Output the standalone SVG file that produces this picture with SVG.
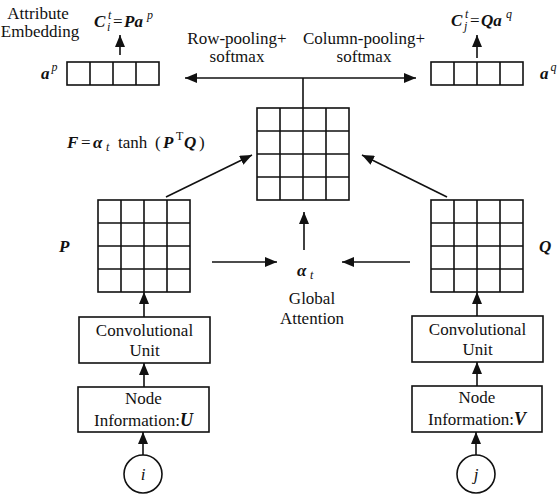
<svg xmlns="http://www.w3.org/2000/svg" width="559" height="500" viewBox="0 0 559 500">
  <defs>
    <marker id="arrow" viewBox="0 0 12 10" refX="12" refY="5" markerWidth="12" markerHeight="10" markerUnits="userSpaceOnUse" orient="auto">
      <path d="M0,0 L12,5 L0,10 Z" fill="#111"/>
    </marker>
    <style>
      .t { font-family: "Liberation Serif", "Times New Roman", serif; font-size: 17px; fill: #111; }
      .m { font-style: italic; font-weight: bold; }
      .it { font-style: italic; }
      .box { fill: #fff; stroke: #111; stroke-width: 1.6; }
      .grid { fill: none; stroke: #111; stroke-width: 1.6; }
      .edge { fill: none; stroke: #111; stroke-width: 1.6; marker-end: url(#arrow); }
      .line { fill: none; stroke: #111; stroke-width: 1.6; }
    </style>
  </defs>
  <rect width="559" height="500" fill="#fff"/>

  <!-- attribute vector a^p -->
  <g id="vec-p">
    <rect class="grid" x="67" y="62" width="92" height="23"/>
    <path class="grid" d="M90,62V85M113,62V85M136,62V85"/>
    <text class="t m" x="41" y="79" font-size="19">a<tspan class="it" font-weight="normal" font-size="12" dx="2" dy="-8">p</tspan></text>
  </g>

  <!-- attribute vector a^q -->
  <g id="vec-q">
    <rect class="grid" x="431" y="62" width="92" height="23"/>
    <path class="grid" d="M454,62V85M477,62V85M500,62V85"/>
    <text class="t m" x="540" y="79" font-size="19">a<tspan class="it" font-weight="normal" font-size="12" dx="2" dy="-8">q</tspan></text>
  </g>

  <!-- attribute embedding labels -->
  <g id="embed-labels">
    <text class="t" x="38" y="19" text-anchor="middle">Attribute</text>
    <text class="t" x="40" y="37" text-anchor="middle">Embedding</text>
    <text class="t" y="27" font-size="19"><tspan class="m" x="94">C</tspan><tspan class="it" font-size="12" x="108" y="19">t</tspan><tspan class="it" font-size="12" x="107" y="31">i</tspan><tspan x="113" y="27">=</tspan><tspan class="m" x="124">Pa</tspan><tspan class="it" font-size="12" x="147" y="19">p</tspan></text>
    <text class="t" y="26" font-size="19"><tspan class="m" x="451">C</tspan><tspan class="it" font-size="12" x="465" y="18">t</tspan><tspan class="it" font-size="12" x="464" y="30">j</tspan><tspan x="470" y="26">=</tspan><tspan class="m" x="481">Qa</tspan><tspan class="it" font-size="12" x="506" y="18">q</tspan></text>
  </g>

  <!-- pooling labels -->
  <g id="pool-labels">
    <text class="t" x="237" y="44" text-anchor="middle">Row-pooling+</text>
    <text class="t" x="237" y="62" text-anchor="middle">softmax</text>
    <text class="t" x="364" y="44" text-anchor="middle">Column-pooling+</text>
    <text class="t" x="364" y="62" text-anchor="middle">softmax</text>
  </g>

  <!-- interaction matrix F -->
  <g id="matrix-F">
    <rect class="grid" x="257" y="108" width="92" height="92"/>
    <path class="grid" d="M280,108V200M303,108V200M326,108V200M257,131H349M257,154H349M257,177H349"/>
    <text class="t" y="148" font-size="19"><tspan class="m" x="67">F</tspan><tspan x="81">=</tspan><tspan class="m" x="93">α</tspan><tspan class="it" font-size="12" x="106" y="151">t</tspan><tspan x="118" y="148">tanh</tspan><tspan x="155">(</tspan><tspan class="m" x="163">P</tspan><tspan font-size="12" x="176" y="140">T</tspan><tspan class="m" x="184" y="148">Q</tspan><tspan x="199">)</tspan></text>
  </g>

  <!-- matrix P -->
  <g id="matrix-P">
    <rect class="grid" x="98" y="200" width="92" height="92"/>
    <path class="grid" d="M121,200V292M144,200V292M167,200V292M98,223H190M98,246H190M98,269H190"/>
    <text class="t m" x="59" y="252" font-size="19">P</text>
  </g>

  <!-- matrix Q -->
  <g id="matrix-Q">
    <rect class="grid" x="431" y="200" width="92" height="92"/>
    <path class="grid" d="M454,200V292M477,200V292M500,200V292M431,223H523M431,246H523M431,269H523"/>
    <text class="t m" x="539" y="252" font-size="19">Q</text>
  </g>

  <!-- global attention -->
  <g id="global-attention">
    <text class="t" y="276" font-size="19"><tspan class="m" x="297">α</tspan><tspan class="it" font-size="12" x="310" y="279">t</tspan></text>
    <text class="t" x="312" y="304" text-anchor="middle">Global</text>
    <text class="t" x="312" y="324" text-anchor="middle">Attention</text>
  </g>

  <!-- left branch -->
  <g id="conv-left">
    <rect class="box" x="79" y="317" width="131" height="46"/>
    <text class="t" x="144.5" y="336" text-anchor="middle">Convolutional</text>
    <text class="t" x="144.5" y="356" text-anchor="middle">Unit</text>
  </g>
  <g id="node-info-U">
    <rect class="box" x="78" y="387" width="131" height="45"/>
    <text class="t" x="143.5" y="404" text-anchor="middle">Node</text>
    <text class="t" x="143.5" y="426" text-anchor="middle">Information:<tspan class="m" font-size="18">U</tspan></text>
  </g>
  <g id="node-i">
    <circle class="box" cx="143" cy="474" r="19"/>
    <text class="t it" x="143" y="480" text-anchor="middle">i</text>
  </g>

  <!-- right branch -->
  <g id="conv-right">
    <rect class="box" x="412" y="316" width="131" height="46"/>
    <text class="t" x="477.5" y="335" text-anchor="middle">Convolutional</text>
    <text class="t" x="477.5" y="355" text-anchor="middle">Unit</text>
  </g>
  <g id="node-info-V">
    <rect class="box" x="412" y="386" width="130" height="46"/>
    <text class="t" x="477" y="403" text-anchor="middle">Node</text>
    <text class="t" x="477" y="425" text-anchor="middle">Information:<tspan class="m" font-size="18">V</tspan></text>
  </g>
  <g id="node-j">
    <circle class="box" cx="476" cy="474" r="19"/>
    <text class="t it" x="476" y="480" text-anchor="middle">j</text>
  </g>

  <!-- connectors -->
  <g id="connectors">
    <path class="edge" d="M120,55V35"/>
    <path class="edge" d="M477,58V35"/>
    <path class="line" d="M303,108V78"/>
    <path class="edge" d="M303,78H185"/>
    <path class="edge" d="M303,78H416"/>
    <path class="edge" d="M166,197L252,155"/>
    <path class="edge" d="M447,197L362,155"/>
    <path class="edge" d="M212,262H277"/>
    <path class="edge" d="M410,262H342"/>
    <path class="edge" d="M304,250V212"/>
    <path class="edge" d="M144,317V292"/>
    <path class="edge" d="M144,387V363"/>
    <path class="edge" d="M143,455V432"/>
    <path class="edge" d="M477,316V292"/>
    <path class="edge" d="M477,386V362"/>
    <path class="edge" d="M476,455V432"/>
  </g>
</svg>
